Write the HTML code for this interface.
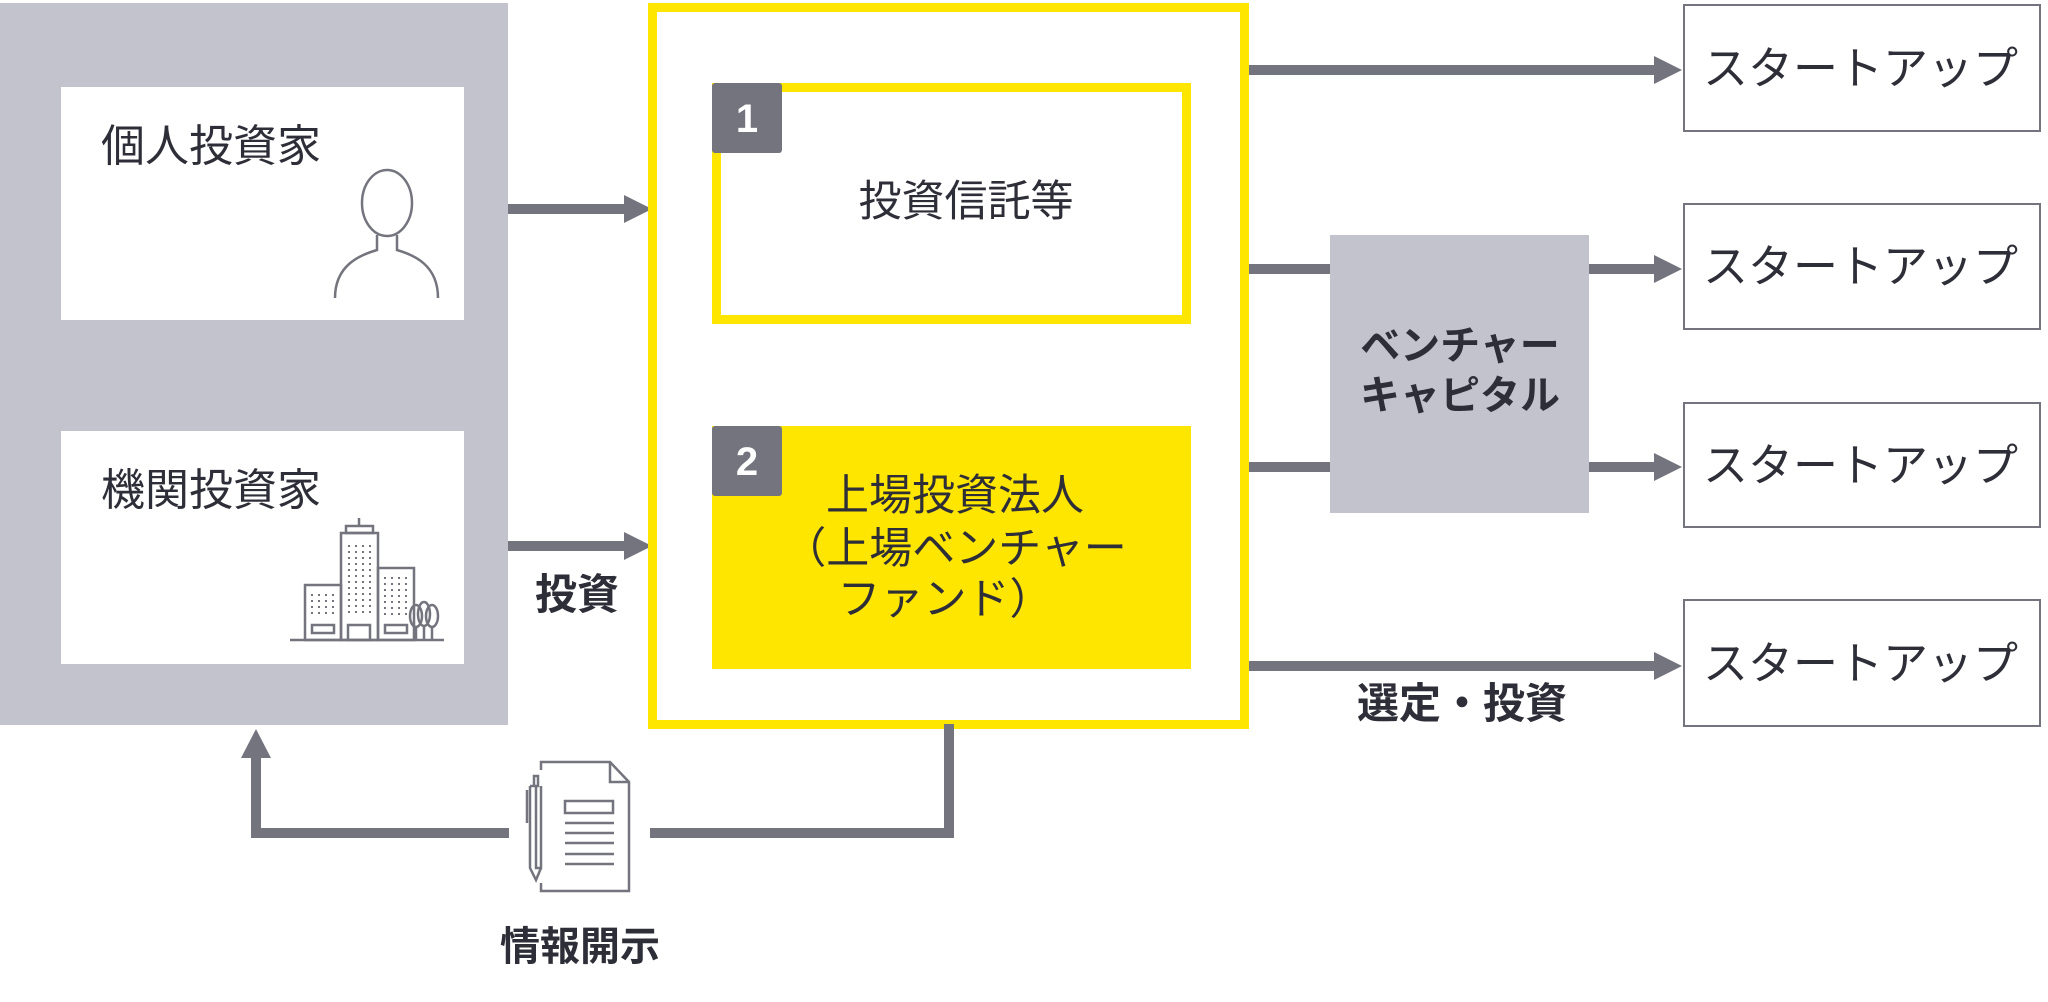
<!DOCTYPE html>
<html><head><meta charset="utf-8"><style>
html,body{margin:0;padding:0;background:#fff;}
svg{display:block;}
text{font-family:"Liberation Sans","Noto Sans CJK JP",sans-serif;fill:#2e2e38;}
.b{font-weight:bold;}
</style></head><body>
<svg width="2048" height="1002" viewBox="0 0 2048 1002" xmlns="http://www.w3.org/2000/svg">
<rect x="0" y="3" width="508" height="722" fill="#c2c3cc"/>
<rect x="61" y="87" width="403" height="233" fill="#fff"/>
<rect x="61" y="431" width="403" height="233" fill="#fff"/>
<text x="101" y="161" font-size="44">個人投資家</text>
<text x="101" y="505" font-size="44">機関投資家</text>
<g fill="none" stroke="#74747e" stroke-width="2.5">
<ellipse cx="387" cy="203" rx="25" ry="33"/>
<path d="M335 298 C335 265 360 255 377 250 L377 235 M397 235 L397 250 C414 255 438 265 438 298"/>
</g>
<g fill="none" stroke="#74747e" stroke-width="2.5">
<line x1="290" y1="640" x2="444" y2="640"/>
<rect x="305" y="585" width="36" height="55"/>
<rect x="341" y="533" width="37" height="107"/>
<rect x="346" y="526" width="27" height="7"/>
<line x1="359" y1="518" x2="359" y2="526"/>
<rect x="378" y="568" width="36" height="72"/>
<rect x="348" y="625" width="22" height="15"/>
<rect x="312" y="625" width="22" height="8"/>
<rect x="385" y="625" width="22" height="8"/>
<ellipse cx="416" cy="616" rx="6" ry="11"/><ellipse cx="424" cy="614" rx="6" ry="12"/><ellipse cx="432" cy="616" rx="6" ry="11"/>
<line x1="416" y1="627" x2="416" y2="640"/><line x1="424" y1="626" x2="424" y2="640"/><line x1="432" y1="627" x2="432" y2="640"/>
</g>
<g stroke="#74747e" stroke-width="2" stroke-dasharray="2 4">
<line x1="349" y1="545" x2="349" y2="617"/><line x1="356" y1="545" x2="356" y2="617"/><line x1="363" y1="545" x2="363" y2="617"/><line x1="370" y1="545" x2="370" y2="617"/>
<line x1="312" y1="594" x2="312" y2="618"/><line x1="319" y1="594" x2="319" y2="618"/><line x1="326" y1="594" x2="326" y2="618"/><line x1="333" y1="594" x2="333" y2="618"/>
<line x1="385" y1="577" x2="385" y2="618"/><line x1="392" y1="577" x2="392" y2="618"/><line x1="399" y1="577" x2="399" y2="618"/><line x1="406" y1="577" x2="406" y2="618"/>
</g>
<g fill="#74747e">
<rect x="508" y="204" width="120" height="10"/><polygon points="624,195 652,209 624,223"/>
<rect x="508" y="541" width="120" height="10"/><polygon points="624,532 652,546 624,560"/>
</g>
<text x="535" y="609" font-size="42" class="b">投資</text>
<rect x="652.5" y="7.5" width="592" height="717" fill="#fff" stroke="#ffe600" stroke-width="9"/>
<rect x="716.5" y="87.5" width="470" height="232" fill="#fff" stroke="#ffe600" stroke-width="9"/>
<rect x="712" y="426" width="479" height="243" fill="#ffe600"/>
<rect x="712" y="83" width="70" height="70" rx="3" fill="#74747e"/>
<rect x="712" y="426" width="70" height="70" rx="3" fill="#74747e"/>
<text x="747" y="132" font-size="40" class="b" text-anchor="middle" style="fill:#fff">1</text>
<text x="747" y="475" font-size="40" class="b" text-anchor="middle" style="fill:#fff">2</text>
<text x="966" y="216" font-size="43" text-anchor="middle">投資信託等</text>
<text x="955" y="510" font-size="43" text-anchor="middle">上場投資法人</text>
<text x="955" y="563" font-size="43" text-anchor="middle">（上場ベンチャー</text>
<text x="945" y="614" font-size="43" text-anchor="middle">ファンド）</text>
<g fill="none" stroke="#74747e" stroke-width="10">
<polyline points="949,724 949,833 650,833"/>
<polyline points="509,833 256,833 256,755"/>
</g>
<polygon points="241,758 256,729 271,758" fill="#74747e"/>
<g fill="none" stroke="#74747e" stroke-width="2.5">
<path d="M541 770 L541 762 L610 762 L629 782 L629 891 L541 891 L541 883"/>
<path d="M610 762 L610 782 L629 782"/>
<rect x="565" y="801" width="48" height="12"/>
<line x1="565" y1="823" x2="614" y2="823"/><line x1="565" y1="833" x2="614" y2="833"/><line x1="565" y1="843" x2="614" y2="843"/><line x1="565" y1="854" x2="614" y2="854"/><line x1="565" y1="864" x2="614" y2="864"/>
<path d="M530 786 L536 786 L536 868 L541 868 L541 786 M530 786 L530 868 L536 880 L541 868 M534 776 L538 776 L538 786 L534 786 Z"/>
<path d="M527 790 L527 823"/>
</g>
<text x="580" y="960" font-size="40" class="b" text-anchor="middle">情報開示</text>
<g fill="#74747e">
<rect x="1249" y="65" width="408" height="10"/><polygon points="1654,56 1682,70 1654,84"/>
<rect x="1249" y="264" width="85" height="10"/>
<rect x="1249" y="462" width="85" height="10"/>
<rect x="1588" y="264" width="69" height="10"/><polygon points="1654,255 1682,269 1654,283"/>
<rect x="1588" y="462" width="69" height="10"/><polygon points="1654,453 1682,467 1654,481"/>
<rect x="1249" y="661" width="408" height="10"/><polygon points="1654,652 1682,666 1654,680"/>
</g>
<rect x="1330" y="235" width="259" height="278" fill="#c2c3cc"/>
<text x="1460" y="359" font-size="40" class="b" text-anchor="middle">ベンチャー</text>
<text x="1460" y="409" font-size="40" class="b" text-anchor="middle">キャピタル</text>
<text x="1462" y="718" font-size="42" class="b" text-anchor="middle">選定・投資</text>
<g fill="#fff" stroke="#74747e" stroke-width="2">
<rect x="1684" y="5" width="356" height="126"/>
<rect x="1684" y="204" width="356" height="125"/>
<rect x="1684" y="403" width="356" height="124"/>
<rect x="1684" y="600" width="356" height="126"/>
</g>
<g font-size="45">
<text x="1703" y="84">スタートアップ</text>
<text x="1703" y="282">スタートアップ</text>
<text x="1703" y="481">スタートアップ</text>
<text x="1703" y="679">スタートアップ</text>
</g>
</svg>
</body></html>
